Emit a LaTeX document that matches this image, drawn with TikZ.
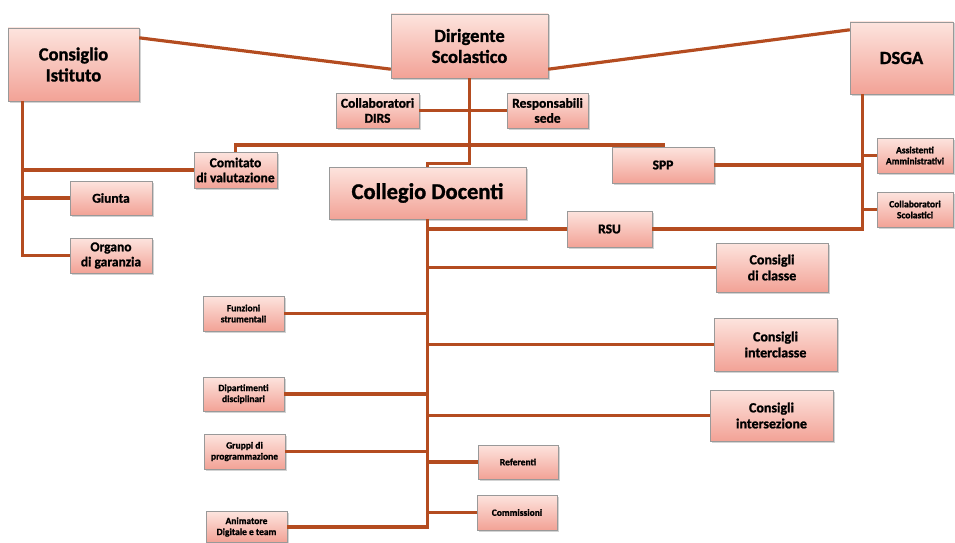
\documentclass[tikz,border=0pt]{standalone}
\usepackage{fontspec}
\setmainfont{Carlito}[BoldFeatures={FakeBold=1.2}]
\usepackage{tikz}
\usetikzlibrary{positioning,shadows}
\definecolor{linkbrown}{RGB}{180,76,32}
\definecolor{boxtop}{RGB}{253,228,222}
\definecolor{boxbottom}{RGB}{242,162,150}

\begin{document}
\begin{tikzpicture}[x=1pt,y=-1pt,
orgbox/.style={rectangle, draw=black!40, top color=boxtop, bottom color=boxbottom, drop shadow={shadow xshift=1.5pt, shadow yshift=-1.5pt, opacity=0.35}, align=center, inner sep=1pt},
bigbox/.style={orgbox, font=\bfseries\fontsize{18.5}{21}\selectfont},
midbox/.style={orgbox, font=\bfseries\fontsize{13.5}{15}\selectfont},
consbox/.style={orgbox, font=\bfseries\fontsize{14}{16}\selectfont},
tinybox/.style={orgbox, font=\bfseries\fontsize{9.5}{11}\selectfont},
link/.style={draw=linkbrown, line width=3.2pt}
]
\useasboundingbox (0,0) rectangle (955,543);
\node[bigbox, minimum width=131pt, minimum height=73pt] (CI) at (73.5,64.5) {Consiglio\\Istituto};
\node[bigbox, minimum width=157pt, minimum height=64pt] (DS) at (469.5,46) {Dirigente\\Scolastico};
\node[bigbox, minimum width=103pt, minimum height=72pt] (DSGA) at (901.5,58) {DSGA};
\node[midbox, minimum width=83pt, minimum height=35pt] (CDIRS) at (377.5,110.5) {Collaboratori\\DIRS};
\node[midbox, minimum width=81pt, minimum height=35pt] (RS) at (547.5,110.5) {Responsabili\\sede};
\node[midbox, minimum width=83pt, minimum height=36pt] (CV) at (235.5,170) {Comitato\\di valutazione};
\node[midbox, minimum width=82pt, minimum height=34pt] (GI) at (111,198) {Giunta};
\node[midbox, minimum width=82pt, minimum height=35pt] (OG) at (111,255.5) {Organo\\di garanzia};
\node[orgbox, font=\bfseries\fontsize{22.5}{25}\selectfont, minimum width=197pt, minimum height=52pt] (CD) at (427.5,193) {Collegio Docenti};
\node[midbox, minimum width=102pt, minimum height=36pt] (SPP) at (663,165) {SPP};
\node[midbox, minimum width=85pt, minimum height=36pt] (RSU) at (609.5,229) {RSU};
\node[tinybox, minimum width=76pt, minimum height=35pt] (AA) at (915,155.5) {Assistenti\\Amministrativi};
\node[tinybox, minimum width=76pt, minimum height=35pt] (CS) at (915,209.5) {Collaboratori\\Scolastici};
\node[consbox, minimum width=112pt, minimum height=49pt] (CC) at (772,267.5) {Consigli\\di classe};
\node[consbox, minimum width=123pt, minimum height=53pt] (CIC) at (775.5,344.5) {Consigli\\interclasse};
\node[consbox, minimum width=123pt, minimum height=51pt] (CIS) at (771.5,415.5) {Consigli\\intersezione};
\node[tinybox, minimum width=80pt, minimum height=34pt] (RE) at (518,462) {Referenti};
\node[tinybox, minimum width=80pt, minimum height=35pt] (CO) at (517,512.5) {Commissioni};
\node[tinybox, minimum width=81pt, minimum height=35pt] (FS) at (243.5,313.5) {Funzioni\\strumentali};
\node[tinybox, minimum width=81pt, minimum height=34pt] (DD) at (243.5,394) {Dipartimenti\\disciplinari};
\node[tinybox, minimum width=81pt, minimum height=35pt] (GP) at (244.5,451.5) {Gruppi di\\programmazione};
\node[tinybox, minimum width=81pt, minimum height=31pt] (AN) at (246.5,527) {Animatore\\Digitale e team};
\coordinate (jn) at (471,145);
\coordinate (ciL) at ([xshift=15pt]CI.south west);
\coordinate (dsL) at ([xshift=13pt]DSGA.south west);
\draw[link] ([yshift=-10pt]CI.north east) -- ([yshift=9pt]DS.south west);
\draw[link] ([yshift=9pt]DS.south east) -- ([yshift=-8pt]DSGA.north west);
\draw[link] (DS.south) -- ++(0,85) -| (CD.north);
\draw[link] (CDIRS.east) -- (RS.west);
\draw[link] (CV.north) |- (jn) -| (SPP.north);
\foreach \n in {CV,GI,OG} \draw[link] (ciL) |- (\n.west);
\foreach \n in {AA,CS} \draw[link] (dsL) |- (\n.west);
\draw[link] (SPP.east) -| (dsL);
\draw[link] (RSU.east) -| (dsL);
\foreach \n in {RSU,CC,CIC,CIS,RE,CO} \draw[link] (CD.south) |- (\n.west);
\foreach \n in {FS,DD,GP,AN} \draw[link] (CD.south) |- (\n.east);
\end{tikzpicture}
\end{document}
